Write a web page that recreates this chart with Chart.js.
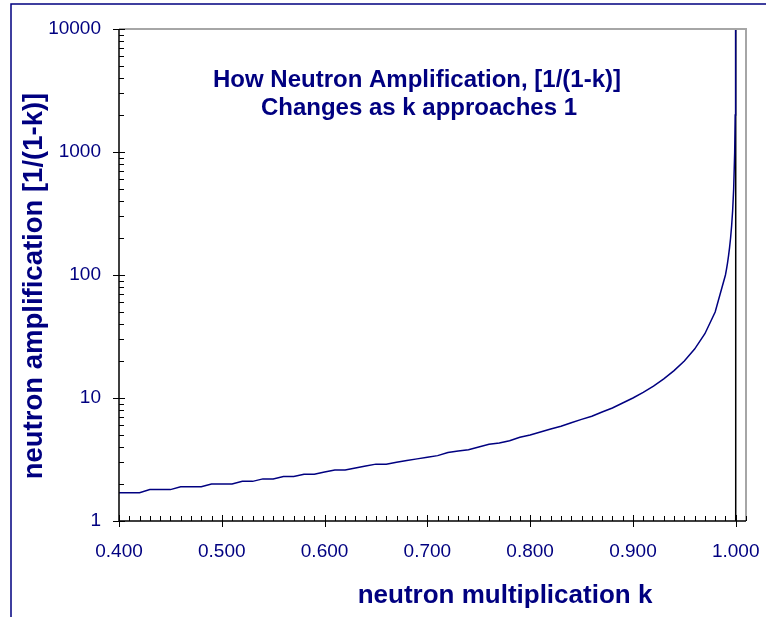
<!DOCTYPE html>
<html>
<head>
<meta charset="utf-8">
<script src="https://cdn.jsdelivr.net/npm/chart.js@4.4.1/dist/chart.umd.min.js"></script>
<style>
  body { margin: 0; background: #fff; }
  #wrap { width: 766px; height: 617px; position: relative; }
</style>
</head>
<body>
<div id="wrap"><canvas id="chart" width="766" height="617"></canvas></div>
<script>
// values
const kValues = [0.40, 0.41, 0.42, 0.43, 0.44, 0.45, 0.46, 0.47, 0.48, 0.49,
  0.50, 0.51, 0.52, 0.53, 0.54, 0.55, 0.56, 0.57, 0.58, 0.59,
  0.60, 0.61, 0.62, 0.63, 0.64, 0.65, 0.66, 0.67, 0.68, 0.69,
  0.70, 0.71, 0.72, 0.73, 0.74, 0.75, 0.76, 0.77, 0.78, 0.79,
  0.80, 0.81, 0.82, 0.83, 0.84, 0.85, 0.86, 0.87, 0.88, 0.89,
  0.90, 0.91, 0.92, 0.93, 0.94, 0.95, 0.96, 0.97, 0.98, 0.99,
  0.991, 0.992, 0.993, 0.994, 0.995, 0.996, 0.997, 0.998, 0.999, 0.9995, 0.9999];
const amplification = [1.7, 1.7, 1.7, 1.8, 1.8, 1.8, 1.9, 1.9, 1.9, 2.0,
  2.0, 2.0, 2.1, 2.1, 2.2, 2.2, 2.3, 2.3, 2.4, 2.4,
  2.5, 2.6, 2.6, 2.7, 2.8, 2.9, 2.9, 3.0, 3.1, 3.2,
  3.3, 3.4, 3.6, 3.7, 3.8, 4.0, 4.2, 4.3, 4.5, 4.8,
  5.0, 5.3, 5.6, 5.9, 6.3, 6.7, 7.1, 7.7, 8.3, 9.1,
  10.0, 11.1, 12.5, 14.3, 16.7, 20.0, 25.0, 33.3, 50.0, 100.0,
  111, 125, 143, 167, 200, 250, 333, 500, 1000, 2000, 10000];
const limitK = [1.0, 1.0];
const limitY = [1, 10000];

const xTickValues = [0.4, 0.5, 0.6, 0.7, 0.8, 0.9, 1.0];
const xTickLabels = ["0.400", "0.500", "0.600", "0.700", "0.800", "0.900", "1.000"];
const yTickValues = [1, 10, 100, 1000, 10000];
const yTickLabels = ["1", "10", "100", "1000", "10000"];

const NAVY = "#000080";
const FONT = "'Liberation Sans', Arial, sans-serif";

// frame, tick marks, titles (Excel style)
const decorPlugin = {
    id: "decor",
    afterDraw(chart) {
        const { ctx, chartArea: a, scales: { x, y } } = chart;
        ctx.save();

        // outer frame
        ctx.strokeStyle = NAVY;
        ctx.lineWidth = 1.5;
        ctx.beginPath();
        ctx.moveTo(11, 617);
        ctx.lineTo(11, 4);
        ctx.lineTo(766, 4);
        ctx.stroke();

        // plot area gray top / right border
        ctx.strokeStyle = "#a6a6a6";
        ctx.lineWidth = 2;
        ctx.beginPath();
        ctx.moveTo(a.left, a.top);
        ctx.lineTo(a.right, a.top);
        ctx.lineTo(a.right, a.bottom);
        ctx.stroke();

        // axes
        ctx.strokeStyle = "#000";
        ctx.lineWidth = 1.5;
        ctx.beginPath();
        ctx.moveTo(a.left, a.top);
        ctx.lineTo(a.left, a.bottom);
        ctx.lineTo(a.right, a.bottom);
        ctx.stroke();

        ctx.lineWidth = 1;
        ctx.beginPath();
        // x minor ticks every 0.01 (inside)
        for (let i = 40; i <= 101; i++) {
            const px = Math.round(x.getPixelForValue(i / 100)) + 0.5;
            ctx.moveTo(px, a.bottom);
            ctx.lineTo(px, a.bottom - 5);
        }
        // x major ticks cross the axis
        xTickValues.forEach(v => {
            const px = Math.round(x.getPixelForValue(v)) + 0.5;
            ctx.moveTo(px, a.bottom + 6);
            ctx.lineTo(px, a.bottom - 6);
        });
        // y minor ticks 2..9 per decade
        [1, 10, 100, 1000].forEach(d => {
            for (let m = 2; m <= 9; m++) {
                const py = Math.round(y.getPixelForValue(d * m)) + 0.5;
                ctx.moveTo(a.left, py);
                ctx.lineTo(a.left + 5, py);
            }
        });
        yTickValues.forEach(v => {
            const py = Math.round(y.getPixelForValue(v)) + 0.5;
            ctx.moveTo(a.left - 6, py);
            ctx.lineTo(a.left + 6, py);
        });
        ctx.stroke();

        // chart title inside the plot
        ctx.fillStyle = NAVY;
        ctx.textAlign = "center";
        ctx.textBaseline = "alphabetic";
        ctx.font = "bold 24px " + FONT;
        ctx.fillText("How Neutron Amplification, [1/(1-k)]", 417, 87);
        ctx.fillText("Changes as k approaches 1", 419, 115);

        // axis titles
        ctx.font = "bold 26px " + FONT;
        ctx.fillText("neutron multiplication k", 505, 603);
        ctx.font = "bold 27.5px " + FONT;
        ctx.translate(42, 286);
        ctx.rotate(-Math.PI / 2);
        ctx.fillText("neutron amplification [1/(1-k)]", 0, 0);
        ctx.restore();
    }
};

const ctx = document.getElementById("chart");
new Chart(ctx, {
    type: "scatter",
    data: {
        datasets: [
            {
                label: "amplification",
                data: kValues.map((k, i) => ({ x: k, y: amplification[i] })),
                showLine: true,
                borderColor: NAVY,
                borderWidth: 1.5,
                pointRadius: 0,
                tension: 0,
            },
            {
                label: "k = 1",
                data: limitK.map((k, i) => ({ x: k, y: limitY[i] })),
                showLine: true,
                borderColor: "#000",
                borderWidth: 1.5,
                pointRadius: 0,
            },
        ]
    },
    options: {
        responsive: false,
        animation: false,
        events: [],
        layout: { padding: { left: 0, top: 29, right: 20, bottom: 0 } },
        plugins: {
            legend: { display: false },
            tooltip: { enabled: false },
        },
        scales: {
            x: {
                type: "linear",
                min: 0.4,
                max: 1.01,
                afterBuildTicks: s => { s.ticks = xTickValues.map(v => ({ value: v })); },
                afterFit: s => { s.height = 96; s.paddingLeft = 0; s.paddingRight = 0; },
                grid: { display: false, drawTicks: false },
                border: { display: false },
                ticks: {
                    maxRotation: 0,
                    padding: 19,
                    color: NAVY,
                    font: { family: FONT, size: 19 },
                    callback: (v, i) => xTickLabels[i],
                },
            },
            y: {
                type: "logarithmic",
                min: 1,
                max: 10000,
                afterBuildTicks: s => { s.ticks = yTickValues.map(v => ({ value: v })); },
                afterFit: s => { s.width = 119; s.paddingTop = 0; s.paddingBottom = 0; },
                grid: { display: false, drawTicks: false },
                border: { display: false },
                ticks: {
                    padding: 18,
                    color: NAVY,
                    font: { family: FONT, size: 19 },
                    callback: (v, i) => yTickLabels[i],
                },
            },
        },
    },
    plugins: [decorPlugin],
});
</script>
</body>
</html>
